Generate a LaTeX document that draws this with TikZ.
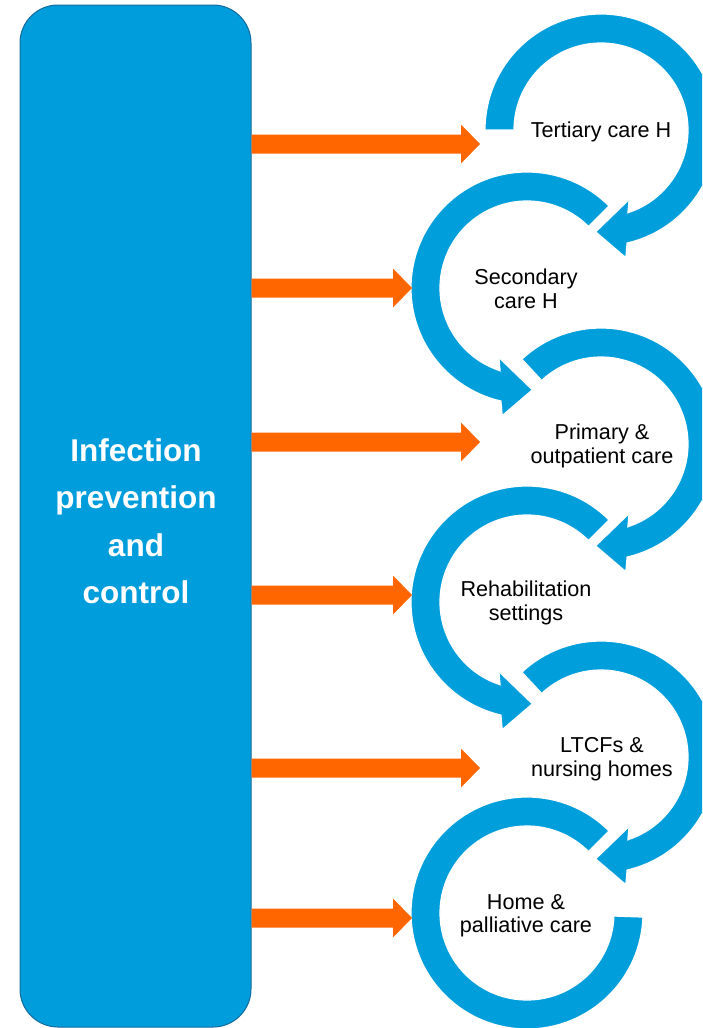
\documentclass[tikz,border=0pt]{standalone}
\usepackage{fontspec}
\setmainfont{Liberation Sans}
\usetikzlibrary{calc}
\definecolor{ringblue}{RGB}{0,158,219}
\definecolor{boxblue}{RGB}{0,157,220}
\definecolor{boxedge}{RGB}{18,108,158}
\definecolor{arrorange}{RGB}{255,102,0}
\tikzset{
  ring/.style={fill=ringblue, draw=white, line width=1.2pt, line join=miter},
  ringlabel/.style={align=center, font=\fontsize{21.6}{23.5}\selectfont, text=black, inner sep=0pt},
  ipcbox/.style={fill=boxblue, draw=boxedge, line width=1pt, rounded corners=38pt,
    minimum width=231pt, minimum height=1022pt, inner sep=0pt},
  ipctext/.style={align=center, text=white, inner sep=0pt,
    font=\bfseries\fontsize{31.5}{47.5}\selectfont},
  orangefill/.style={fill=arrorange},
}
% clockwise ring: #1 centre, #2 start angle
\newcommand{\cwring}[2]{%
  \path[ring] ($(#1)+(#2:116pt)$) arc[start angle=#2, end angle=-77, radius=116pt]
    -- ($(#1)+(-79:130pt)$) -- ($(#1)+(-93:102pt)$) -- ($(#1)+(-68:75pt)$)
    -- ($(#1)+(-72:87pt)$) arc[start angle=-72, end angle=#2, radius=87pt] -- cycle;}
% counter-clockwise ring: #1 centre, #2 start angle
\newcommand{\ccwring}[2]{%
  \path[ring] ($(#1)+(#2:116pt)$) arc[start angle=#2, end angle=257, radius=116pt]
    -- ($(#1)+(259:130pt)$) -- ($(#1)+(273:102pt)$) -- ($(#1)+(248:75pt)$)
    -- ($(#1)+(252:87pt)$) arc[start angle=252, end angle=#2, radius=87pt] -- cycle;}
% orange block arrow: #1 start coordinate, #2 tip coordinate
\newcommand{\orangeblock}[2]{%
  \fill[orangefill] ($(#1)+(0,9.5)$) -- ($(#2)+(-19,9.5)$) -- ($(#2)+(-19,19.5)$)
    -- (#2) -- ($(#2)+(-19,-19.5)$) -- ($(#2)+(-19,-9.5)$) -- ($(#1)+(0,-9.5)$) -- cycle;}
\begin{document}
\begin{tikzpicture}[x=1pt,y=1pt]
\useasboundingbox (0,0) rectangle (702,-1028);
\clip (0,0) rectangle (702,-1028);

% ring centres
\coordinate (c1) at (601,-130);
\coordinate (c2) at (527,-288);
\coordinate (c3) at (601,-444);
\coordinate (c4) at (527,-602);
\coordinate (c5) at (601,-757);
\coordinate (c6) at (527,-913);

% rings
\cwring{c1}{180}
\ccwring{c2}{45}
\cwring{c3}{133}
\ccwring{c4}{45}
\cwring{c5}{133}
\path[ring] ($(c6)+(45:116pt)$) arc[start angle=45, end angle=358, radius=116pt]
  -- ($(c6)+(358:87pt)$) arc[start angle=358, end angle=45, radius=87pt] -- cycle;

% ring labels
\node[ringlabel] (l1) at (601,-132) {Tertiary care H};
\node[ringlabel] (l2) at (526,-289) {Secondary\\care H};
\node[ringlabel] (l3) at (602,-446) {Primary \&\\outpatient care};
\node[ringlabel] (l4) at (526,-603) {Rehabilitation\\settings};
\node[ringlabel] (l5) at (602,-759) {LTCFs \&\\nursing homes};
\node[ringlabel] (l6) at (526,-916) {Home \&\\palliative care};

% left box
\node[ipcbox] (box) at (135.5,-516) {};
\node[ipctext] (ipc) at (136,-521) {Infection\\prevention\\and\\control};

% arrow tips
\coordinate (t1) at (480,-144);
\coordinate (t2) at (412,-288);
\coordinate (t3) at (480,-442);
\coordinate (t4) at (412,-595);
\coordinate (t5) at (480,-768);
\coordinate (t6) at (412,-918);
\foreach \i in {1,...,6}{
  \coordinate (s\i) at (box.east |- t\i);
}
\orangeblock{s1}{t1}
\orangeblock{s2}{t2}
\orangeblock{s3}{t3}
\orangeblock{s4}{t4}
\orangeblock{s5}{t5}
\orangeblock{s6}{t6}
\end{tikzpicture}
\end{document}
